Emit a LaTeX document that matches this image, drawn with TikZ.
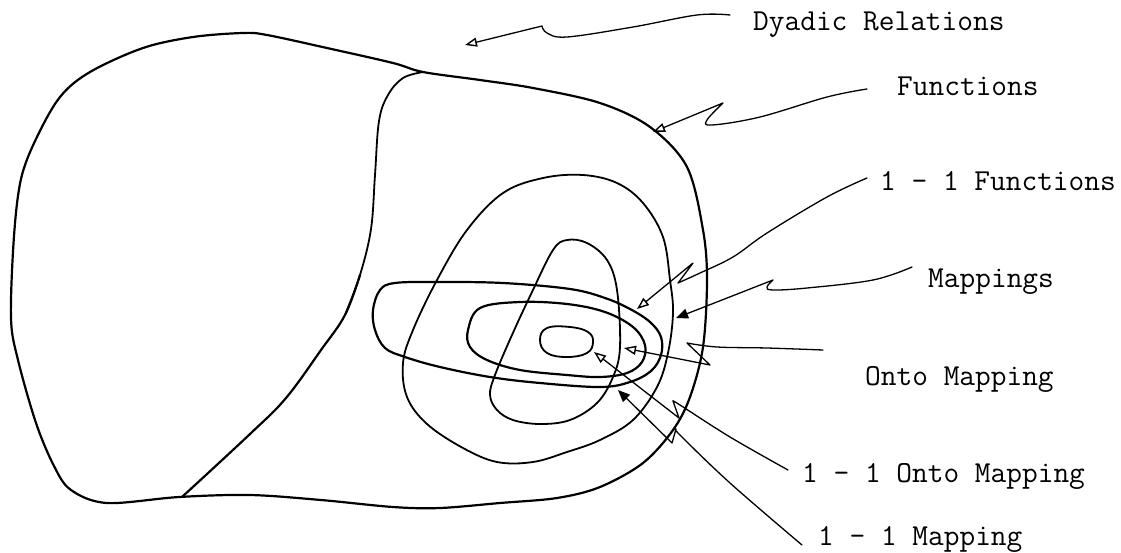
\documentclass[tikz,border=0pt]{standalone}
\usepackage{fontspec}
\usetikzlibrary{arrows.meta,calc}
\begin{document}
\begin{tikzpicture}[x=1pt,y=-1pt,
  region/.style={line width=1.8pt, line join=round, line cap=round},
  heavy/.style={line width=2.2pt, line join=round, line cap=round},
  conn/.style={line width=1.3pt, line cap=round, line join=round},
  openhead/.style={-{Triangle[open,length=12pt,width=9pt,line width=1.4pt]}},
  fullhead/.style={-{Triangle[length=12pt,width=10pt]}},
  lbl/.style={font=\ttfamily\fontsize{30.5}{34}\selectfont, anchor=base west, inner sep=0pt}]
\fill[white] (0,0) rectangle (1121,552);
\useasboundingbox (0,0) rectangle (1121,552);

% regions
\draw[heavy] plot[smooth cycle, tension=0.55] coordinates {(11,318) (14,236) (21,179) (36,139) (60,97) (90,72) (143,48) (193,37) (243,33) (267,35) (327,48) (393,63) (423,72) (480,80) (533,88) (600,103) (650,127) (687,167) (703,230) (707,280) (703,347) (690,397) (673,430) (643,463) (600,487) (557,498) (500,503) (440,508) (393,507) (321,500) (250,495) (179,497) (107,503) (71,490) (54,466) (36,423) (18,360)};
\draw[region] plot[smooth, tension=0.6] coordinates {(423,72) (403,78) (388,95) (379,121) (375,175) (371,229) (360,275) (345,315)};
\draw[heavy] plot[smooth, tension=0.6] coordinates {(360,275) (345,315) (321,350) (286,398) (250,434) (182,497)};
\draw[region] plot[smooth cycle, tension=0.6] coordinates {(467,230) (503,193) (543,178) (583,175) (617,183) (643,203) (663,237) (670,280) (673,313) (668,353) (657,387) (633,420) (600,440) (567,452) (533,462) (497,462) (463,448) (427,424) (407,397) (403,363) (413,330) (437,280)};
\draw[region] plot[smooth cycle, tension=0.6] coordinates {(553,250) (567,240) (587,243) (607,260) (617,290) (620,347) (613,377) (597,403) (570,420) (540,424) (513,420) (497,410) (490,395) (495,375) (512,335) (532,292)};
\draw[heavy] plot[smooth cycle, tension=0.6] coordinates {(373,310) (380,290) (395,283) (437,282) (503,283) (570,289) (605,298) (630,309) (650,322) (661,337) (661,355) (651,371) (630,382) (600,387) (540,383) (490,377) (440,367) (405,357) (385,348) (375,330)};
\draw[heavy] plot[smooth cycle, tension=0.6] coordinates {(468,330) (480,308) (520,302) (567,304) (605,312) (633,327) (645,345) (642,362) (627,373) (600,377) (567,375) (520,370) (487,360) (470,347)};
\draw[region] plot[smooth cycle, tension=0.7] coordinates {(540,340) (547,328) (570,327) (588,332) (593,342) (587,353) (567,357) (547,353)};

% labels
\node[lbl] (dy) at (753,30) {Dyadic Relations};
\node[lbl] (fu) at (897,95) {Functions};
\node[lbl] (of) at (880,190) {1 - 1 Functions};
\node[lbl] (ma) at (928,287) {Mappings};
\node[lbl] (on) at (865,385) {Onto Mapping};
\node[lbl] (oo) at (802,482) {1 - 1 Onto Mapping};
\node[lbl] (om) at (818,545) {1 - 1 Mapping};

% connector ends
\coordinate (dyS) at ($(dy.base west)+(-23,-15)$);
\coordinate (fuS) at ($(fu.base west)+(-30,-6)$);
\coordinate (ofS) at ($(of.base west)+(-13,-12)$);
\coordinate (maS) at ($(ma.base west)+(-16,-20)$);
\coordinate (onS) at ($(on.base west)+(-42,-35)$);
\coordinate (ooS) at ($(oo.base west)+(-14,-12)$);
\coordinate (omS) at ($(om.base west)+(-16,0)$);
\coordinate (dyT) at (465,45);
\coordinate (fuT) at (653,132);
\coordinate (ofT) at (637,309);
\coordinate (maT) at (676,318);
\coordinate (onT) at (624,348);
\coordinate (ooT) at (594,352);
\coordinate (omT) at (618,390);

% connectors
\draw[conn,openhead] plot[smooth, tension=0.6] coordinates {(dyS) (697,15) (633,27) (567,37) (547,33) (542,26)} -- (dyT);
\draw[conn,openhead] plot[smooth, tension=0.6] coordinates {(fuS) (827,97) (760,117) (712,125) (707,120) (723,103)} -- (fuT);
\draw[conn,openhead] plot[smooth, tension=0.6] coordinates {(ofS) (827,197) (767,233) (733,257) (700,273) (678,283)} -- (693,263) -- (ofT);
\draw[conn,fullhead] plot[smooth, tension=0.6] coordinates {(maS) (873,280) (807,288) (773,290) (767,287) (773,280)} -- (maT);
\draw[conn,openhead] plot[smooth, tension=0.6] coordinates {(onS) (767,348) (717,347) (687,343)} -- (710,365) -- (onT);
\draw[conn,openhead] plot[smooth, tension=0.6] coordinates {(ooS) (730,437) (680,405) (673,401)} -- (679,418) -- (ooT);
\draw[conn,fullhead] plot[smooth, tension=0.6] coordinates {(omS) (730,483) (680,435) (676,429)} -- (672,443) -- (omT);
\end{tikzpicture}
\end{document}
